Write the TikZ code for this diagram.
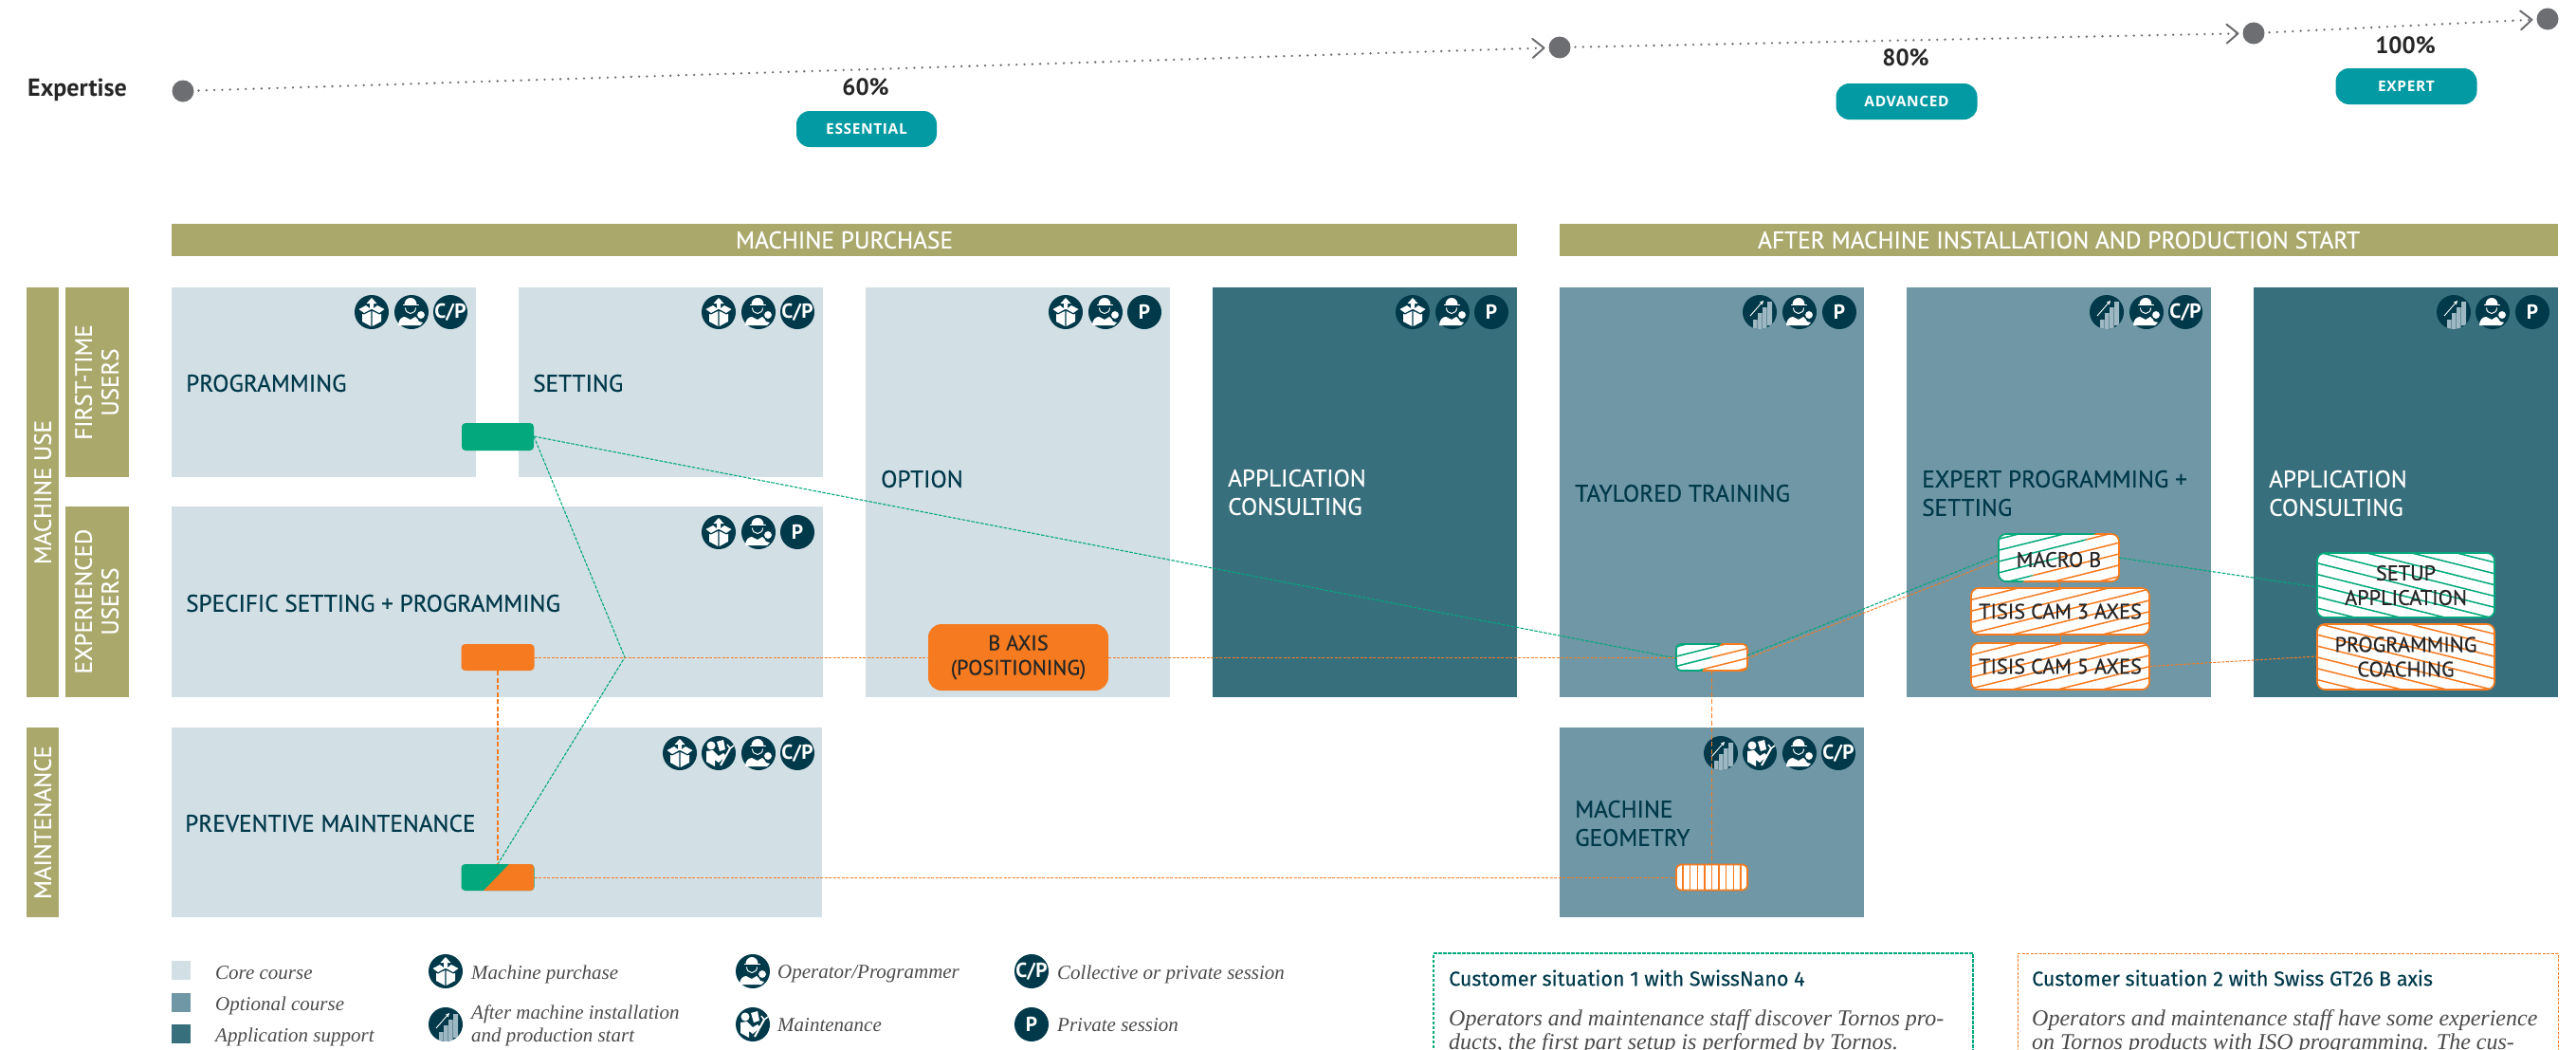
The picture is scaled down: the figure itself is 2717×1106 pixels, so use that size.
\documentclass[tikz,border=0pt]{standalone}
\usepackage{fontspec}
\setmainfont{PT Sans}
\newfontfamily\med[FakeBold=0.5]{PT Sans}
\newfontfamily\slabit{Liberation Serif}
\newfontfamily\headf[FakeBold=0.3]{Fira Sans}
\newfontfamily\pillf[LetterSpace=4]{Open Sans}
\usetikzlibrary{arrows.meta,calc}
\definecolor{clight}{HTML}{D2DFE5}
\definecolor{cmid}{HTML}{6F97A5}
\definecolor{cdark}{HTML}{376F7D}
\definecolor{colive}{HTML}{ABA86C}
\definecolor{cteal}{HTML}{049AA3}
\definecolor{cnavy}{HTML}{00394A}
\definecolor{cgreen}{HTML}{03A87C}
\definecolor{corange}{HTML}{F67B20}
\definecolor{cgray}{HTML}{6D6E71}
\definecolor{cbar}{HTML}{9DB8C2}
\definecolor{ctext}{HTML}{4A4A4A}
\newcommand\fs[1]{\fontsize{#1}{#1}\selectfont}
\newcommand\hatchlines[3]{%
  \coordinate (hc) at (path picture bounding box.center);
  \foreach \k in {-16,...,16}{
    \draw[#1,line width=1.5pt]
      ($(hc)+({\k*#3*sin(#2)-220*cos(#2)},{\k*#3*cos(#2)+220*sin(#2)})$)--
      ($(hc)+({\k*#3*sin(#2)+220*cos(#2)},{\k*#3*cos(#2)-220*sin(#2)})$);}}
\tikzset{
  sized/.style n args={2}{minimum width=#1,minimum height=#2,inner sep=0pt,outer sep=0pt},
  label/.style={anchor=west,inner sep=0pt,align=left,text=cnavy,font=\med\fs{25.2}\setlength{\baselineskip}{30pt}},
  labelw/.style={label,text=white},
  band/.style={fill=colive,text=white,inner sep=0pt,outer sep=0pt,font=\med\fs{25.4},align=center},
  side/.style={rotate=90,text=white,inner sep=0pt,font=\med\fs{25}\setlength{\baselineskip}{28pt},align=center},
  pill/.style={fill=cteal,text=white,rounded corners=14pt,inner sep=0pt,outer sep=0pt,font=\pillf\bfseries\fs{15.5}},
  pct/.style={inner sep=0pt,font=\bfseries\fs{25},text=black!85},
  conng/.style={draw=cgreen,line width=1.1pt,dash pattern=on 3.5pt off 1.5pt},
  conno/.style={draw=corange,line width=1pt,dash pattern=on 3pt off 1.5pt},
  connot/.style={draw=corange,line width=1.1pt,dash pattern=on 5pt off 2.5pt},
  hbox/.style={rounded corners=8pt,inner sep=0pt,outer sep=0pt,fill=white,line width=1.7pt,align=center,text=black!85,font=\med\fs{22.3}\setlength{\baselineskip}{26pt}},
  hl/.style n args={3}{path picture={\hatchlines{#1}{#2}{#3}}},
  legt/.style={anchor=west,inner sep=0pt,align=left,text=ctext,font=\slabit\itshape\fs{21}\setlength{\baselineskip}{24pt}},
  disk/.style={fill=cnavy,draw=none},
  dot/.style={circle,fill=cgray,minimum size=23pt,inner sep=0pt,outer sep=0pt},
  trail/.style={draw=cgray,line width=2.6pt,line cap=round,dash pattern=on 0pt off 8.3pt,shorten <=5pt,shorten >=4pt,
     -{Straight Barb[length=12pt,width=20pt,line width=2pt,round]}},
  icbox/.pic={\fill[disk](0,0) circle(18);
    \fill[white](-2,-3)--(-2,-9)--(-5.5,-9)--(0,-15)--(5.5,-9)--(2,-9)--(2,-3)--cycle;
    \fill[white](-13.5,-3)--(-6,-7)--(-.8,-3)--(-8,1)--cycle (13.5,-3)--(6,-7)--(.8,-3)--(8,1)--cycle;
    \fill[white](-10,2)--(-8,2.5)--(-.7,-1)--(-.7,15)--(-10,10)--cycle (10,2)--(8,2.5)--(.7,-1)--(.7,15)--(10,10)--cycle;},
  icwork/.pic={\fill[disk](0,0) circle(18);
    \fill[white](-7.5,-8) arc[start angle=180,end angle=360,x radius=6.5,y radius=7]--cycle;
    \fill[white](-9.5,-8) rectangle(7.5,-6.6);
    \draw[white,line width=1pt](-6.5,-4.5) arc[start angle=180,end angle=0,x radius=5.5,y radius=6];
    \fill[white](-14,14) .. controls (-14,8) and (-10,5) .. (-7,5) -- (-1,8) -- (4,5) .. controls (6,6) and (7,8) .. (8,10)--(12,11)--(9,14)--cycle;
    \fill[white](10,3) circle(4.5);
    \draw[cnavy,line width=.8pt](10,3) circle(4.5);},
  icgraph/.pic={\fill[disk](0,0) circle(18);
    \begin{scope}\clip (0,0) circle(18);
    \fill[cbar](-7,8) rectangle(-2.5,18) (-2,1) rectangle(2.5,18) (3,-5) rectangle(7.5,18) (8,-11) rectangle(13,14);
    \end{scope}
    \draw[white,line width=.9pt,-{Straight Barb[length=3pt,width=3pt]}](-10,4)--(4,-12);},
  icmaint/.pic={\fill[disk](0,0) circle(18);
    \fill[white](-8,-8) circle(4.5);
    \fill[white](-13,-2)--(-6,-3)--(0,3)--(5,0)--(8,3)--(0,10)--(-4,7)--(-4,14)--(-13,9)--cycle;
    \fill[white](-2,-12)--(5,-14)--(7,-4)--(1,-2)--cycle;
    \draw[white,line width=2pt](2,13)--(12,-5);\draw[white,line width=1.5pt](9,-9)--(12,-5)--(16,-8);},
  iccp/.pic={\fill[disk](0,0) circle(18);\node[text=white,inner sep=0pt,font=\bfseries\fs{21.5}](t) at (0,0){C/P};},
  icp/.pic={\fill[disk](0,0) circle(18);\node[text=white,inner sep=0pt,font=\bfseries\fs{21.5}](t) at (0,0){P};},
}
\begin{document}
\begin{tikzpicture}[x=1pt,y=-1pt]
\useasboundingbox (0,0) rectangle (2717,1106);
\begin{scope}
\clip (0,0) rectangle (2717,1106);
% --- expertise
\node[anchor=west,inner sep=0pt,font=\bfseries\fs{26},text=black!85](exp) at (29,95){Expertise};
\node[dot](d1) at (193,96){};
\node[dot](d2) at (1645,50){};
\node[dot](d3) at (2377,35){};
\node[dot](d4) at (2687,20){};
\foreach \a/\b in {d1/d2,d2/d3,d3/d4}
  \draw[trail](\a)--(\b);
\node[pct](p60) at (913,92){60\%};
\node[pct](p80) at (2010,61){80\%};
\node[pct](p100) at (2537,47.5){100\%};
\node[pill,sized={148pt}{38pt}](pe) at (914,136){ESSENTIAL};
\node[pill,sized={149pt}{38pt}](pa) at (2011,107){ADVANCED};
\node[pill,sized={149pt}{38pt}](px) at (2538,91){EXPERT};
% --- bands
\node[band,sized={1419pt}{34pt},anchor=north west](b1) at (181,236){MACHINE PURCHASE};
\node[band,sized={1053pt}{34pt},anchor=north west](b2) at (1645,236){AFTER MACHINE INSTALLATION AND PRODUCTION START};
\fill[colive](28,303) rectangle (62,735);
\fill[colive](69,303) rectangle (136,503);
\fill[colive](69,534) rectangle (136,735);
\fill[colive](28,767) rectangle (62,967);
\node[side](s1) at (45,519){MACHINE USE};
\node[side](s2) at (102,403){FIRST-TIME\\USERS};
\node[side](s3) at (102,634){EXPERIENCED\\USERS};
\node[side](s4) at (45,867){MAINTENANCE};
% --- cards
\fill[clight](181,303) rectangle (502,503);
\fill[clight](547,303) rectangle (868,503);
\fill[clight](913,303) rectangle (1234,735);
\fill[cdark](1279,303) rectangle (1600,735);
\fill[cmid](1645,303) rectangle (1966,735);
\fill[cmid](2011,303) rectangle (2332,735);
\fill[cdark](2377,303) rectangle (2698,735);
\fill[clight](181,534) rectangle (868,735);
\fill[clight](181,767) rectangle (867,967);
\fill[cmid](1645,767) rectangle (1966,967);
% --- labels
\node[label](l1) at (196,404){PROGRAMMING};
\node[label](l2) at (562,404){SETTING};
\node[label](l3) at (929,505){OPTION};
\node[labelw](l4) at (1295,519){APPLICATION\\CONSULTING};
\node[label](l5) at (1661,520){TAYLORED TRAINING};
\node[label](l6) at (2027,520){EXPERT PROGRAMMING +\\SETTING};
\node[labelw](l7) at (2393,520){APPLICATION\\CONSULTING};
\node[label](l8) at (196,636){SPECIFIC SETTING + PROGRAMMING};
\node[label](l9) at (195,868){PREVENTIVE MAINTENANCE};
\node[label](l10) at (1661,868){MACHINE\\GEOMETRY};
% --- icons
\path (392,329) pic{icbox} (434,329) pic{icwork} (475,329) pic{iccp};
\path (758,329) pic{icbox} (800,329) pic{icwork} (841,329) pic{iccp};
\path (1124,329) pic{icbox} (1166,329) pic{icwork} (1207,329) pic{icp};
\path (1490,329) pic{icbox} (1532,329) pic{icwork} (1573,329) pic{icp};
\path (1856,329) pic{icgraph} (1898,329) pic{icwork} (1940,329) pic{icp};
\path (2222,329) pic{icgraph} (2264,329) pic{icwork} (2305,329) pic{iccp};
\path (2588,329) pic{icgraph} (2629,329) pic{icwork} (2671,329) pic{icp};
\path (758,561) pic{icbox} (800,561) pic{icwork} (841,561) pic{icp};
\path (717,794) pic{icbox} (758,794) pic{icmaint} (800,794) pic{icwork} (841,794) pic{iccp};
\path (1815,794) pic{icgraph} (1856,794) pic{icmaint} (1898,794) pic{icwork} (1939,794) pic{iccp};
% --- small tags
\node[fill=cgreen,rounded corners=4pt,sized={76pt}{29pt}](gs) at (525,460.5){};
\node[fill=corange,rounded corners=4pt,sized={77pt}{28pt}](os) at (525,693){};
\node[fill=corange,rounded corners=14pt,sized={190pt}{70pt},align=center,text=black!85,font=\med\fs{22.3}\setlength{\baselineskip}{26pt}](ba) at (1074,693){B AXIS\\(POSITIONING)};
\node[fill=cgreen,rounded corners=4pt,sized={77pt}{28pt}](mix) at (525,925){};
\begin{scope}
 \clip (537,911)--(510,939)--(563,939)--(563,911)--cycle;
 \fill[corange,rounded corners=4pt](486.5,911) rectangle (563.5,939);
\end{scope}
% --- hatched boxes
\node[hbox,draw=cgreen,hl={cgreen}{14}{10},rounded corners=5pt,sized={75pt}{28pt}](tt) at (1805.5,693){};
\begin{scope}
 \clip (1818,675)--(1793,711)--(1850,711)--(1850,675)--cycle;
 \path[hbox,draw=corange,hl={corange}{14}{10},rounded corners=5pt](1768,679) rectangle (1843,707);
\end{scope}
\node[hbox,draw=corange,hl={corange}{90}{7.6},rounded corners=5pt,sized={75pt}{27pt}](mg) at (1805.5,925){};
\node[hbox,draw=cgreen,hl={cgreen}{14}{11.5},sized={127pt}{50pt}](mb) at (2171.5,588){};
\begin{scope}
 \clip (2214,560)--(2130,616)--(2245,616)--(2245,560)--cycle;
 \path[hbox,draw=corange,hl={corange}{14}{11.5}](2108,563) rectangle (2235,613);
\end{scope}
\node[inner sep=0pt,text=black!85,font=\med\fs{22.3}](mbt) at (2171.5,590){MACRO B};
\node[hbox,draw=corange,hl={corange}{14}{11.5},sized={188pt}{49pt}](t3) at (2173,644.5){TISIS CAM 3 AXES};
\node[hbox,draw=corange,hl={corange}{14}{11.5},sized={188pt}{49pt}](t5) at (2173,702.5){TISIS CAM 5 AXES};
\node[hbox,draw=cgreen,hl={cgreen}{-14}{11.5},sized={187pt}{68pt}](su) at (2537.5,617){SETUP\\APPLICATION};
\node[hbox,draw=corange,hl={corange}{-14}{11.5},sized={187pt}{69pt}](pc) at (2537.5,692.5){PROGRAMMING\\COACHING};
% --- connectors
\coordinate (kink) at (659,693);
\draw[conng]([yshift=.5pt]gs.east)--([yshift=-1pt]tt.west);
\draw[conng]([yshift=.5pt]gs.east)--(kink)--(mix.north);
\draw[conno](os.east)--(ba.west);
\draw[conno](ba.east)--(tt.west);
\draw[connot](os.south)--(mix.north);
\draw[conno](mix.east)--(mg.west);
\draw[connot](tt.south)--(mg.north);
\draw[conno]([yshift=-1pt]tt.east)--([yshift=-3pt]mb.west);
\draw[conng]([yshift=2pt]tt.east)--([yshift=3pt]mb.west);
\draw[conng](mb.east)--([yshift=-2pt]su.west);
\draw[conno](t5.east)--([yshift=.5pt]pc.west);
\draw[corange,line width=1pt](mb.south)--(t3.north);
\draw[corange,line width=1pt](t3.south)--(t5.north);
% --- legend
\fill[clight](181,1013) rectangle (201,1033);
\fill[cmid](181,1047) rectangle (201,1067);
\fill[cdark](181,1080) rectangle (201,1100);
\node[legt](k1) at (227,1026){Core course};
\node[legt](k2) at (227,1060){Optional course};
\node[legt](k3) at (227,1093){Application support};
\path (470,1024) pic{icbox} (470,1080) pic{icgraph} (794,1024) pic{icwork} (794,1080) pic{icmaint} (1088,1024) pic{iccp} (1088,1080) pic{icp};
\node[legt](k4) at (497,1027){Machine purchase};
\node[legt](k5) at (497,1081){After machine installation\\and production start};
\node[legt](k6) at (820,1027){Operator/Programmer};
\node[legt](k7) at (820,1081){Maintenance};
\node[legt](k8) at (1115,1027){Collective or private session};
\node[legt](k9) at (1115,1081){Private session};
% --- customer boxes
\coordinate (c1a) at (1512,1140); \coordinate (c1b) at (1512,1005); \coordinate (c1c) at (2081,1005); \coordinate (c1d) at (2081,1140);
\coordinate (c2a) at (2128,1140); \coordinate (c2b) at (2128,1005); \coordinate (c2c) at (2698,1005); \coordinate (c2d) at (2698,1140);
\draw[conng](c1a)--(c1b)--(c1c)--(c1d);
\draw[conno](c2a)--(c2b)--(c2c)--(c2d);
\node[anchor=west,inner sep=0pt,font=\headf\fs{21.5},text=cnavy](h1) at (1528,1031){Customer situation 1 with SwissNano 4};
\node[anchor=west,inner sep=0pt,font=\headf\fs{21.5},text=cnavy](h2) at (2143,1031){Customer situation 2 with Swiss GT26 B axis};
\node[anchor=north west,inner sep=0pt,align=left,text=ctext,font=\slabit\itshape\fs{24}\setlength{\baselineskip}{25pt}](b1t) at (1528,1064){Operators and maintenance staff discover Tornos pro-\\ducts, the first part setup is performed by Tornos.};
\node[anchor=north west,inner sep=0pt,align=left,text=ctext,font=\slabit\itshape\fs{24}\setlength{\baselineskip}{25pt}](b2t) at (2143,1064){Operators and maintenance staff have some experience\\on Tornos products with ISO programming. The cus-};
\end{scope}
\end{tikzpicture}
\end{document}
